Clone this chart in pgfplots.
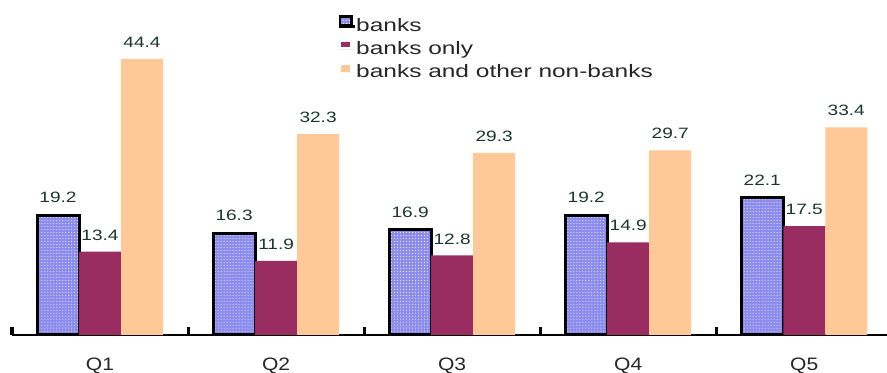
\documentclass[border=0pt]{standalone}
\usepackage{fontspec}
\usepackage{pgfplots}
\pgfplotsset{compat=1.18}
\usetikzlibrary{patterns}

\newfontfamily\lgfont[FakeStretch=1.36]{Liberation Sans}
\newfontfamily\vfont[FakeStretch=1.27]{Liberation Sans}
\newfontfamily\qfont[FakeStretch=1.17]{Liberation Sans}

\definecolor{bankc}{RGB}{140,140,238}
\definecolor{onlyc}{RGB}{153,45,98}
\definecolor{otherc}{RGB}{255,200,150}
\definecolor{labelc}{RGB}{25,55,45}

\begin{document}
\begin{tikzpicture}
\begin{axis}[
  at={(0,0)}, anchor=south west,
  scale only axis, width=875bp, height=335bp,
  xmin=-0.5, xmax=4.47, ymin=0, ymax=53.86,
  axis x line*=bottom, axis y line=none,
  axis line style={line width=2.5bp, black},
  ybar=0pt, bar width=42bp,
  xtick={0,1,2,3,4},
  xticklabels={Q1,Q2,Q3,Q4,Q5},
  major tick length=0pt,
  minor xtick={-0.5,0.5,1.5,2.5,3.5},
  minor tick length=8bp,
  xtick align=inside,
  minor tick style={line width=3bp, black},
  xticklabel style={font=\qfont\fontsize{18bp}{21bp}\selectfont, text=black!85,
    inner sep=0pt, anchor=north, yshift=-23bp},
  /pgf/number format/.cd, fixed, precision=1, fixed zerofill, assume math mode=true,
  /pgfplots/.cd,
  nodes near coords,
  nodes near coords style={font=\vfont\fontsize{15bp}{18bp}\selectfont,
    text=labelc, inner sep=0pt, anchor=south, yshift=11bp},
  legend style={at={(0.3714,0.9552)}, anchor=north west, draw=none, fill=none,
    inner sep=0pt, row sep=6bp, column sep=0pt,
    font=\lgfont\fontsize{18bp}{20bp}\selectfont, text=black!85,
    nodes={inner sep=0pt, text height=13bp, text depth=4bp}},
  legend cell align=left,
]
\addplot[fill=bankc, draw=black, line width=3bp,
  postaction={pattern=dots, pattern color=white},
  legend image code/.code={
    \draw[fill=bankc, draw=black, line width=2.5bp,
      postaction={pattern=dots, pattern color=white}]
      (1.5bp,1.5bp) rectangle (13bp,10.5bp);
    \path (0bp,0bp) -- (16bp,0bp);}]
  coordinates {(0,19.2) (1,16.3) (2,16.9) (3,19.2) (4,22.1)};
\addlegendentry{banks}
\addplot[fill=onlyc, draw=none,
  legend image code/.code={
    \fill[onlyc] (2bp,3bp) rectangle (11bp,8bp);
    \path (0bp,0bp) -- (16bp,0bp);}]
  coordinates {(0,13.4) (1,11.9) (2,12.8) (3,14.9) (4,17.5)};
\addlegendentry{banks only}
\addplot[fill=otherc, draw=none,
  legend image code/.code={
    \fill[otherc] (2bp,1bp) rectangle (11bp,8bp);
    \path (0bp,0bp) -- (16bp,0bp);}]
  coordinates {(0,44.4) (1,32.3) (2,29.3) (3,29.7) (4,33.4)};
\addlegendentry{banks and other non-banks}
\end{axis}
\pgfresetboundingbox
\path[use as bounding box] (-12bp,-38bp) rectangle (875bp,335bp);
\end{tikzpicture}
\end{document}
